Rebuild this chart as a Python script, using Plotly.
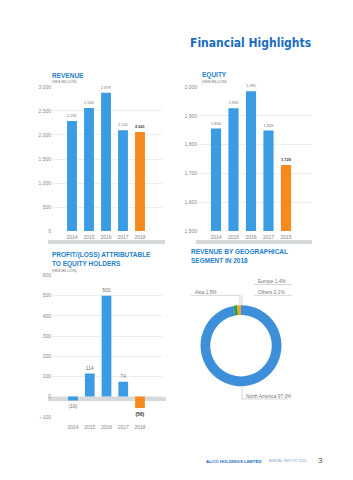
import plotly.graph_objects as go

W, H = 353, 480
years = ["2014", "2015", "2016", "2017", "2018"]
revenue = [2291, 2563, 2879, 2100, 2061]
equity = [1856, 1926, 1985, 1849, 1729]
profit = [-19, 114, 500, 74, -56]
geo_labels = ["North America", "Asia", "Europe", "Others"]
geo_values = [97.0, 1.5, 1.4, 0.1]
geo_texts = ["North America 97.0%", "Asia 1.5%", "Europe 1.4%", "Others 0.1%"]

BLUE = "#3b9be3"
ORANGE = "#f68a1e"
bar_colors = [BLUE, BLUE, BLUE, BLUE, ORANGE]
FONT = "Liberation Sans, Arial, sans-serif"

def px(x):
    return x / W

def py(y):
    return 1 - y / H

def fmt(v):
    s = f"{abs(v):,}"
    return f"({s})" if v < 0 else s

def label_text(vals):
    out = []
    for i, v in enumerate(vals):
        t = fmt(v)
        if i == len(vals) - 1:
            t = "<b>" + t + "</b>"
        out.append(t)
    return out

fig = go.Figure()
xi = list(range(5))

def add_bar(vals, xa, ya):
    fig.add_trace(go.Bar(
        x=xi, y=vals, xaxis=xa, yaxis=ya,
        marker=dict(color=bar_colors, line=dict(width=0)),
        width=0.58,
        text=label_text(vals), textposition="outside",
        textfont=dict(size=5, color=["#777"] * 4 + ["#333"], family=FONT),
        cliponaxis=False, showlegend=False, hoverinfo="skip"))

add_bar(revenue, "x", "y")
add_bar(equity, "x2", "y2")
add_bar(profit, "x3", "y3")

fig.add_trace(go.Pie(
    labels=geo_labels, values=geo_values, hole=0.76, sort=False,
    direction="clockwise", rotation=0,
    marker=dict(colors=["#3d8fd9", "#2e9e4a", "#f5a623", "#e03a2e"], line=dict(width=0)),
    textinfo="none", showlegend=False, hoverinfo="skip",
    domain=dict(x=[px(200), px(282)], y=[py(388), py(306)])))

tick_font = dict(size=5, color="#888", family=FONT)
axis_common = dict(showline=False, zeroline=False, ticks="", tickfont=tick_font, fixedrange=True)

def xax(d0, d1, c0, c1):
    slope = (c1 - c0) / 4
    return dict(axis_common, domain=[px(d0), px(d1)],
                range=[-(c0 - d0) / slope, 4 + (d1 - c1) / slope],
                tickvals=xi, ticktext=years, showgrid=False)

fig.update_layout(
    width=W, height=H, margin=dict(l=0, r=0, t=0, b=0),
    paper_bgcolor="white", plot_bgcolor="rgba(0,0,0,0)",
    font=dict(family=FONT),
    xaxis=dict(xax(52, 162, 72, 140), ticklabelstandoff=2),
    yaxis=dict(axis_common, domain=[py(231), py(85)], range=[0, 3000],
               tickvals=[0, 500, 1000, 1500, 2000, 2500, 3000],
               ticktext=["0", "500", "1,000", "1,500", "2,000", "2,500", "3,000"],
               showgrid=True, gridcolor="#eeeeee", gridwidth=0.6),
    xaxis2=dict(xax(198, 312, 216, 286), anchor="y2", ticklabelstandoff=2),
    yaxis2=dict(axis_common, domain=[py(231), py(85)], range=[1500, 2000], anchor="x2",
                tickvals=[1500, 1600, 1700, 1800, 1900, 2000],
                ticktext=["1,500", "1,600", "1,700", "1,800", "1,900", "2,000"],
                showgrid=True, gridcolor="#eeeeee", gridwidth=0.6),
    xaxis3=dict(xax(52, 162, 73, 140), anchor="y3", ticklabelstandoff=6),
    yaxis3=dict(axis_common, domain=[py(419), py(276)], range=[-100, 600], anchor="x3",
                tickvals=[-100, 0, 100, 200, 300, 400, 500, 600],
                showgrid=True, gridcolor="#eeeeee", gridwidth=0.6),
)

shapes = []
# platforms
shapes.append(dict(type="rect", xref="paper", yref="paper", x0=px(48), x1=px(165), y0=py(244), y1=py(240),
                   fillcolor="#d6d9dc", line=dict(width=0), layer="below"))
shapes.append(dict(type="rect", xref="paper", yref="paper", x0=px(196), x1=px(312), y0=py(244), y1=py(240),
                   fillcolor="#d6d9dc", line=dict(width=0), layer="below"))
shapes.append(dict(type="rect", xref="paper", yref="paper", x0=px(48), x1=px(166), y0=py(403), y1=py(399),
                   fillcolor="#d6d9dc", line=dict(width=0), layer="below"))
# donut leader lines
lc = dict(color="#bbbbbb", width=0.6)
shapes += [
    dict(type="line", xref="paper", yref="paper", x0=px(254), x1=px(292), y0=py(285), y1=py(285), line=lc),
    dict(type="line", xref="paper", yref="paper", x0=px(254), x1=px(292), y0=py(296), y1=py(296), line=lc),
    dict(type="line", xref="paper", yref="paper", x0=px(242), x1=px(242), y0=py(296), y1=py(306), line=lc),
    dict(type="line", xref="paper", yref="paper", x0=px(191), x1=px(240), y0=py(296), y1=py(296), line=lc),
    dict(type="line", xref="paper", yref="paper", x0=px(240), x1=px(240), y0=py(296), y1=py(307), line=lc),
    dict(type="line", xref="paper", yref="paper", x0=px(242), x1=px(288), y0=py(401), y1=py(401), line=lc),
    dict(type="line", xref="paper", yref="paper", x0=px(242), x1=px(242), y0=py(388), y1=py(401), line=lc),
]
fig.update_layout(shapes=shapes)

TB = "#1f7fcc"
ann = []
def A(x, y, text, size, color, xanchor="left", yanchor="middle", family=FONT):
    ann.append(dict(x=px(x), y=py(y), xref="paper", yref="paper", text=text, showarrow=False,
                    xanchor=xanchor, yanchor=yanchor, font=dict(size=size, color=color, family=family)))

A(313, 40, "<b>Financial Highlights</b>", 12, "#1a6cc2", xanchor="right",
  family="DejaVu Sans Condensed, Liberation Sans, sans-serif")
A(50, 73, "<b>REVENUE</b>", 6.5, TB)
A(50, 79.5, "(HK$ MILLION)", 3.6, "#777")
A(200, 73, "<b>EQUITY</b>", 6.5, TB)
A(200, 79.5, "(HK$ MILLION)", 3.6, "#777")
A(50, 255, "<b>PROFIT/(LOSS) ATTRIBUTABLE</b>", 6.5, TB)
A(50, 264, "<b>TO EQUITY HOLDERS</b>", 6.5, TB)
A(50, 271, "(HK$ MILLION)", 3.6, "#777")
A(189, 252, "<b>REVENUE BY GEOGRAPHICAL</b>", 6.5, TB)
A(189, 261, "<b>SEGMENT IN 2018</b>", 6.5, TB)
# donut labels
A(256, 282, geo_texts[2], 4.8, "#777")
A(256, 293, geo_texts[3], 4.8, "#777")
A(193, 293, geo_texts[1], 4.8, "#777")
A(244, 398, geo_texts[0], 4.8, "#777")
# footer
A(204, 464, "<b>ALCO HOLDINGS LIMITED</b>", 4.4, "#1a6cc2")
A(267, 464, "ANNUAL REPORT 2018", 3.4, "#8aa5c8")
A(316, 463, "3", 8, "#555")
fig.update_layout(annotations=ann)

fig.write_html("out.html")
